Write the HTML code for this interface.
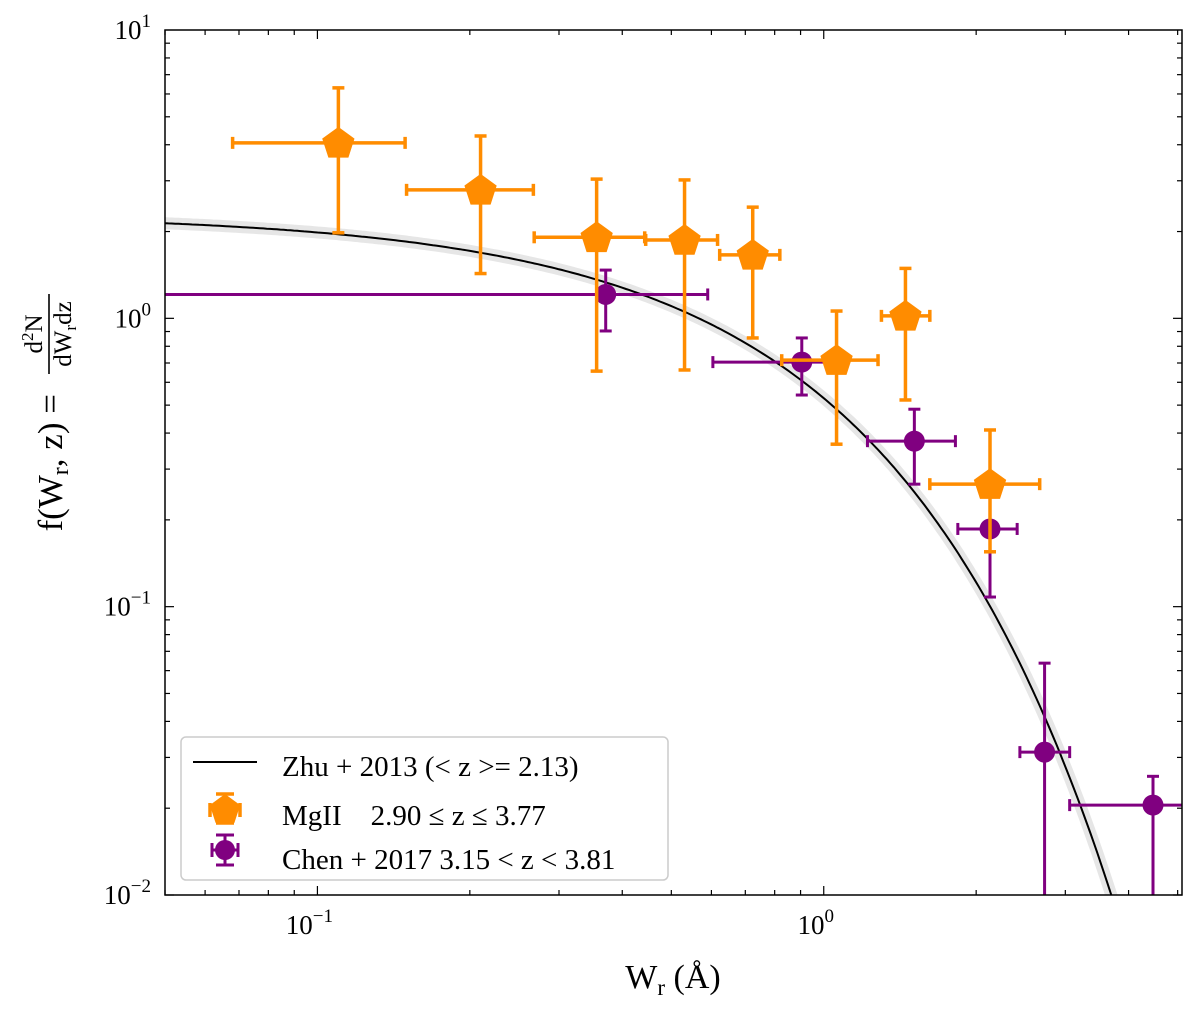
<!DOCTYPE html>
<html><head><meta charset="utf-8"><style>
html,body{margin:0;background:#fff;overflow:hidden;width:1200px;height:1015px;}
svg{display:block;font-family:"Liberation Serif",serif;overflow:hidden;}
</style></head><body>
<svg id="chart" width="1200" height="1015" viewBox="0 0 1200 1015"></svg>
<script>
// data
const mgX=[0.110,0.210,0.356,0.531,0.724,1.06,1.45,2.13];
const mgXlo=[0.068,0.150,0.268,0.445,0.623,0.826,1.30,1.62];
const mgXhi=[0.149,0.267,0.443,0.617,0.819,1.28,1.62,2.67];
const mgY=[4.06,2.79,1.91,1.87,1.66,0.716,1.02,0.266];
const mgYlo=[1.98,1.43,0.656,0.662,0.855,0.366,0.521,0.155];
const mgYhi=[6.3,4.29,3.04,3.02,2.43,1.06,1.49,0.41];
const chX=[0.371,0.905,1.51,2.13,2.73,4.47];
const chXlo=[0.01,0.604,1.22,1.84,2.44,3.06];
const chXhi=[0.590,1.03,1.82,2.41,3.06,10];
const chY=[1.21,0.705,0.375,0.186,0.0313,0.0205];
const chYlo=[0.904,0.542,0.266,0.108,0.001,0.001];
const chYhi=[1.47,0.855,0.484,0.240,0.0637,0.0258];
const zhuN=2.3, zhuW=0.68;
const yTicks=[0.01,0.1,1,10];
const yTickLabels=["10","10","10","10"];
const yTickExp=["−2","−1","0","1"];
const xTicks=[0.1,1];
const xTickExp=["−1","0"];

const L=165,R=1182,T=30,B=895;
const xmin=Math.log10(0.05),xmax=Math.log10(5.1);
const X=v=>L+(Math.log10(v)-xmin)/(xmax-xmin)*(R-L);
const Y=v=>B-(Math.log10(v)+2)/3*(B-T);
const NS="http://www.w3.org/2000/svg";
const svg=document.getElementById('chart');
function mk(tag,at,parent){const e=document.createElementNS(NS,tag);for(const k in at)e.setAttribute(k,at[k]);(parent||svg).appendChild(e);return e;}
const defs=mk('defs',{});
const cp=mk('clipPath',{id:'clip'},defs);mk('rect',{x:L,y:T,width:R-L,height:B-T},cp);
const g=mk('g',{'clip-path':'url(#clip)'});



let d="";
for(let i=0;i<=300;i++){const lw=xmin+(xmax-xmin)*i/300;const w=Math.pow(10,lw);const f=zhuN*Math.exp(-w/zhuW);
d+=(i?"L":"M")+X(w).toFixed(1)+","+Y(f).toFixed(1);}
const bandPath=mk('path',{d:d,fill:'none',stroke:'#e6e6e6','stroke-width':12},g);


const curve=mk('path',{d:d,fill:'none',stroke:'#000','stroke-width':2},g);



function errbar(parent,x,xl,xh,y,yl,yh,col,lw,cap){
  mk('line',{x1:X(xl),x2:X(xh),y1:Y(y),y2:Y(y),stroke:col,'stroke-width':lw},parent);
  mk('line',{x1:X(x),x2:X(x),y1:Y(yl),y2:Y(yh),stroke:col,'stroke-width':lw},parent);
  [[X(xl),Y(y),1],[X(xh),Y(y),1],[X(x),Y(yl),0],[X(x),Y(yh),0]].forEach(c=>{
    if(c[2])mk('line',{x1:c[0],x2:c[0],y1:c[1]-cap,y2:c[1]+cap,stroke:col,'stroke-width':lw},parent);
    else mk('line',{x1:c[0]-cap,x2:c[0]+cap,y1:c[1],y2:c[1],stroke:col,'stroke-width':lw},parent);});
}
function pent(parent,cx,cy,r,col){let p=[];for(let k=0;k<5;k++){const a=-Math.PI/2+k*2*Math.PI/5;p.push((cx+r*Math.cos(a)).toFixed(1)+","+(cy+r*Math.sin(a)).toFixed(1));}
return mk('polygon',{points:p.join(" "),fill:col},parent);}

chX.forEach((x,i)=>{const gg=mk('g',{},g);


errbar(gg,x,chXlo[i],chXhi[i],chY[i],chYlo[i],chYhi[i],'#800080',3,6);
mk('circle',{cx:X(x),cy:Y(chY[i]),r:10.5,fill:'#800080'},gg);});
mgX.forEach((x,i)=>{const gg=mk('g',{},g);


errbar(gg,x,mgXlo[i],mgXhi[i],mgY[i],mgYlo[i],mgYhi[i],'#ff8c00',3.5,6);
pent(gg,X(x),Y(mgY[i])+1,17,'#ff8c00');});

const fr=mk('rect',{x:L,y:T,width:R-L,height:B-T,fill:'none',stroke:'#000','stroke-width':1.5});


for(let e=-2;e<=0;e++)for(let m=1;m<10;m++){const v=m*Math.pow(10,e);const y=Y(v);const len=m==1?9:5;
mk('line',{x1:L,x2:L+len,y1:y,y2:y,stroke:'#000','stroke-width':1.2});mk('line',{x1:R,x2:R-len,y1:y,y2:y,stroke:'#000','stroke-width':1.2});}
mk('line',{x1:L,x2:L+9,y1:Y(10),y2:Y(10),stroke:'#000'});
for(let e=-2;e<=0;e++)for(let m=1;m<10;m++){const v=m*Math.pow(10,e);if(v<0.05||v>5.1)continue;const x=X(v);const len=m==1?9:5;
mk('line',{x1:x,x2:x,y1:B,y2:B-len,stroke:'#000','stroke-width':1.2});mk('line',{x1:x,x2:x,y1:T,y2:T+len,stroke:'#000','stroke-width':1.2});}
yTicks.forEach((v,i)=>{const t=mk('text',{x:L-14,y:Y(v)+9,'text-anchor':'end','font-size':27});


t.innerHTML=yTickLabels[i]+'<tspan dy="-12" font-size="19">'+yTickExp[i]+'</tspan>';});
xTicks.forEach((v,i)=>{const t=mk('text',{x:X(v)-8,y:B+39,'text-anchor':'middle','font-size':27});


t.innerHTML='10<tspan dy="-12" font-size="19">'+xTickExp[i]+'</tspan>';});
const xl=mk('text',{x:673,y:988,'text-anchor':'middle','font-size':34});


xl.innerHTML='W<tspan dy="7" font-size="23">r</tspan><tspan dy="-7"> (Å)</tspan>';

const yg=mk('g',{transform:'translate(62,462) rotate(-90)'});


const ym=mk('text',{x:68,y:0,'text-anchor':'end','font-size':35},yg);
ym.innerHTML='f(W<tspan dy="6" font-size="24">r</tspan><tspan dy="-6">, z) =</tspan>';
const yn=mk('text',{x:128,y:-20,'text-anchor':'middle','font-size':25},yg);
yn.innerHTML='d<tspan dy="-9" font-size="17">2</tspan><tspan dy="9">N</tspan>';
mk('line',{x1:88,x2:168,y1:-13,y2:-13,stroke:'#000','stroke-width':1.6},yg);
const yd=mk('text',{x:128,y:9,'text-anchor':'middle','font-size':25},yg);
yd.innerHTML='dW<tspan dy="5" font-size="17">r</tspan><tspan dy="-5">dz</tspan>';

const lg=mk('g',{});


mk('rect',{x:181,y:737,width:487,height:143,rx:5,fill:'#fff',stroke:'#ccc','stroke-width':1.5},lg);
mk('line',{x1:193,x2:257,y1:762,y2:762,stroke:'#000','stroke-width':2},lg);
const items=[["Zhu + 2013 (< z >= 2.13)",766],["MgII\u00a0\u00a0\u00a0\u00a02.90 ≤ z ≤ 3.77",815],["Chen + 2017 3.15 < z < 3.81",859]];
items.forEach(it=>{const t=mk('text',{x:282,y:it[1]+10,'font-size':29},lg);t.textContent=it[0];

});
[[225,794,225,823],[216,794,234,794],[216,823,234,823],[210,803,210,817],[240,803,240,817]].forEach(c=>mk('line',{x1:c[0],y1:c[1],x2:c[2],y2:c[3],stroke:'#ff8c00','stroke-width':3.5},lg));
pent(lg,225,810,16,'#ff8c00');
[[225,835,225,865],[216,835,234,835],[216,865,234,865],[212,843,212,857],[238,843,238,857],[212,850,238,850]].forEach(c=>mk('line',{x1:c[0],y1:c[1],x2:c[2],y2:c[3],stroke:'#800080','stroke-width':3},lg));
mk('circle',{cx:225,cy:850,r:10,fill:'#800080'},lg);
</script>
</body></html>
